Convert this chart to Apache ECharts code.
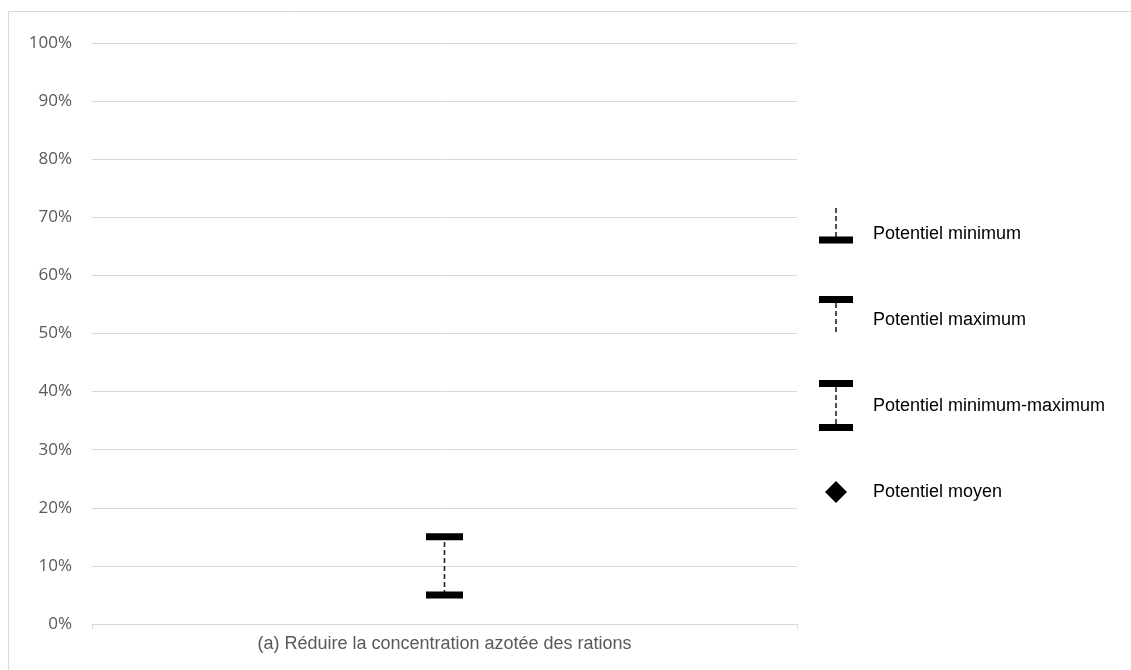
<!DOCTYPE html>
<html>
<head>
<meta charset="utf-8">
<script src="https://cdn.jsdelivr.net/npm/echarts@6/dist/echarts.min.js"></script>
<style>
  html, body { margin: 0; padding: 0; background: #fff; }
  #chart { width: 1131px; height: 670px; }
</style>
</head>
<body>
<div id="chart"></div>
<script>
// Potentiel de réduction par levier (en %)
const categories = ['(a) Réduire la concentration azotée des rations'];
const potentielMinimum = [5];
const potentielMaximum = [15];
const potentielMoyen = [null];
const yTicks = [0, 10, 20, 30, 40, 50, 60, 70, 80, 90, 100];

const chart = echarts.init(document.getElementById('chart'));

const rangeData = categories.map((c, i) => [i, potentielMinimum[i], potentielMaximum[i]]);

const legendItems = [
  { label: 'Potentiel minimum', kind: 'min', y: 234 },
  { label: 'Potentiel maximum', kind: 'max', y: 320 },
  { label: 'Potentiel minimum-maximum', kind: 'range', y: 406 },
  { label: 'Potentiel moyen', kind: 'mean', y: 492 }
];

const textFont = '18px "Liberation Sans", Arial, sans-serif';

function capRect(cx, cy, w, h) {
  return { type: 'rect', shape: { x: cx - w / 2, y: cy - h / 2, width: w, height: h }, style: { fill: '#000' } };
}
function dash(x, y1, y2) {
  return { type: 'line', shape: { x1: x, y1: y1, x2: x, y2: y2 }, style: { stroke: '#222', lineWidth: 1.6, lineDash: [5, 3] } };
}

const legendGraphics = [];
const lx = 836;
legendItems.forEach(item => {
  const children = [];
  if (item.kind === 'min') {
    children.push(dash(lx, 208, 237));
    children.push(capRect(lx, 240, 34, 7));
  } else if (item.kind === 'max') {
    children.push(dash(lx, 303, 334));
    children.push(capRect(lx, 299.5, 34, 7));
  } else if (item.kind === 'range') {
    children.push(dash(lx, 387, 424));
    children.push(capRect(lx, 383.5, 34, 7));
    children.push(capRect(lx, 427.5, 34, 7));
  } else {
    children.push({ type: 'polygon', shape: { points: [[lx, item.y - 11], [lx + 11, item.y], [lx, item.y + 11], [lx - 11, item.y]] }, style: { fill: '#000' } });
  }
  children.push({
    type: 'text', x: 873, y: item.y,
    style: { text: item.label, fill: '#000', font: textFont, verticalAlign: 'middle', align: 'left' }
  });
  legendGraphics.push({ type: 'group', children: children });
});

chart.setOption({
  animation: false,
  backgroundColor: '#fff',
  grid: { left: 92, right: 334, top: 43, bottom: 46 },
  graphic: [
    { type: 'rect', shape: { x: 8.5, y: 11.5, width: 1140, height: 700 }, style: { fill: 'none', stroke: '#d9d9d9', lineWidth: 1 }, z: -1 }
  ].concat(legendGraphics),
  xAxis: {
    type: 'category',
    data: categories,
    boundaryGap: true,
    axisLine: { show: true, lineStyle: { color: '#d9d9d9', width: 1 } },
    axisTick: { show: true, length: 5, lineStyle: { color: '#d9d9d9' } },
    axisLabel: { color: '#595959', fontSize: 18, fontFamily: '"Liberation Sans", Arial, sans-serif', margin: 11 }
  },
  yAxis: {
    type: 'value',
    min: yTicks[0],
    max: yTicks[yTicks.length - 1],
    interval: 10,
    axisLine: { show: false },
    axisTick: { show: false },
    splitLine: { lineStyle: { color: '#d9d9d9', width: 1 } },
    axisLabel: { color: '#595959', fontSize: 17, fontFamily: '"Open Sans", sans-serif', margin: 20, formatter: v => v + '%' }
  },
  series: [
    {
      type: 'custom',
      name: 'Potentiel minimum-maximum',
      data: rangeData,
      renderItem: function (params, api) {
        const lo = api.coord([api.value(0), api.value(1)]);
        const hi = api.coord([api.value(0), api.value(2)]);
        const w = 37, h = 7;
        return {
          type: 'group',
          children: [
            { type: 'line', shape: { x1: lo[0], y1: lo[1], x2: hi[0], y2: hi[1] }, style: { stroke: '#222', lineWidth: 1.6, lineDash: [5, 3] } },
            { type: 'rect', shape: { x: hi[0] - w / 2, y: hi[1] - h / 2, width: w, height: h }, style: { fill: '#000' } },
            { type: 'rect', shape: { x: lo[0] - w / 2, y: lo[1] - h / 2, width: w, height: h }, style: { fill: '#000' } }
          ]
        };
      },
      z: 5
    },
    {
      type: 'scatter',
      name: 'Potentiel moyen',
      data: potentielMoyen,
      symbol: 'diamond',
      symbolSize: 22,
      itemStyle: { color: '#000' },
      z: 6
    }
  ]
});
</script>
</body>
</html>
